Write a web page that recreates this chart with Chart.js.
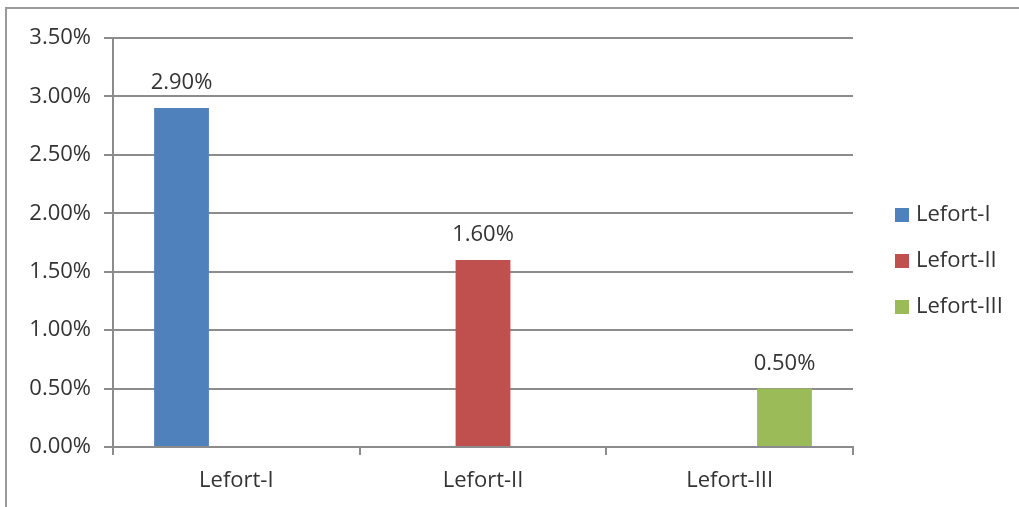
<!DOCTYPE html>
<html>
<head>
<meta charset="utf-8">
<script src="https://cdn.jsdelivr.net/npm/chart.js@4/dist/chart.umd.min.js"></script>
<style>
  html, body { margin: 0; padding: 0; background: #fff; }
  #wrap { width: 1019px; height: 507px; position: relative; }
  canvas { display: block; }
</style>
</head>
<body>
<div id="wrap"><canvas id="c" width="1019" height="507"></canvas></div>
<script>
// Fracture types along the x axis and their share (%)
const categories = ['Lefort-I', 'Lefort-II', 'Lefort-III'];
const seriesNames = ['Lefort-I', 'Lefort-II', 'Lefort-III'];
const lefortI = [2.9, null, null];
const lefortII = [null, 1.6, null];
const lefortIII = [null, null, 0.5];
const seriesColors = ['#4F81BD', '#C0504D', '#9BBB59'];
const yTicks = [0, 0.5, 1, 1.5, 2, 2.5, 3, 3.5];

const FONT = '"Open Sans", "Liberation Sans", sans-serif';
const FSIZE = 22;
const TEXT = '#333333';
const GRID = '#8c8c8c';

// Plot-area box inside the canvas
const PLOT = { left: 113, right: 853, top: 38, bottom: 447 };

const valueLabels = {
  id: 'valueLabels',
  afterDatasetsDraw(chart) {
    const ctx = chart.ctx;
    ctx.save();
    ctx.font = FSIZE + 'px ' + FONT;
    ctx.fillStyle = TEXT;
    ctx.textAlign = 'center';
    ctx.textBaseline = 'alphabetic';
    chart.data.datasets.forEach((ds, i) => {
      const meta = chart.getDatasetMeta(i);
      meta.data.forEach((bar, j) => {
        const v = ds.data[j];
        if (v == null) return;
        ctx.fillText(v.toFixed(2) + '%', bar.x, bar.y - 19);
      });
    });
    ctx.restore();
  }
};

const sideLegend = {
  id: 'sideLegend',
  afterDraw(chart) {
    const ctx = chart.ctx;
    ctx.save();
    ctx.font = FSIZE + 'px ' + FONT;
    ctx.textBaseline = 'middle';
    ctx.textAlign = 'left';
    const rows = [215, 261, 307];
    chart.data.datasets.forEach((ds, i) => {
      const y = rows[i];
      ctx.fillStyle = ds.backgroundColor;
      ctx.fillRect(895, y - 7, 14, 14);
      ctx.fillStyle = TEXT;
      ctx.fillText(ds.label, 916, y);
    });
    ctx.restore();
  }
};

const frame = {
  id: 'frame',
  beforeDraw(chart) {
    const ctx = chart.ctx;
    ctx.save();
    ctx.strokeStyle = '#9a9a9a';
    ctx.lineWidth = 2;
    ctx.beginPath();
    ctx.moveTo(6, 507);
    ctx.lineTo(6, 8);
    ctx.lineTo(1019, 8);
    ctx.stroke();
    ctx.restore();
  }
};

new Chart(document.getElementById('c'), {
  type: 'bar',
  data: {
    labels: categories,
    datasets: [
      { label: seriesNames[0], data: lefortI, backgroundColor: seriesColors[0] },
      { label: seriesNames[1], data: lefortII, backgroundColor: seriesColors[1] },
      { label: seriesNames[2], data: lefortIII, backgroundColor: seriesColors[2] }
    ]
  },
  options: {
    responsive: false,
    animation: false,
    layout: { padding: { left: 0, right: 1019 - PLOT.right, top: PLOT.top, bottom: 0 } },
    datasets: { bar: { categoryPercentage: 3 / 4.5, barPercentage: 1, skipNull: false } },
    plugins: { legend: { display: false }, tooltip: { enabled: false } },
    scales: {
      x: {
        grid: {
          display: true, drawOnChartArea: false, drawTicks: true, tickLength: 8,
          color: GRID, lineWidth: 2, offset: true
        },
        border: { display: true, color: GRID, width: 2 },
        ticks: { font: { family: FONT, size: FSIZE }, color: TEXT, padding: 13 },
        afterFit(s) { s.height = 507 - PLOT.bottom; }
      },
      y: {
        min: 0, max: 3.5,
        afterBuildTicks(s) { s.ticks = yTicks.map(v => ({ value: v })); },
        grid: { color: GRID, lineWidth: 2, tickLength: 9, drawTicks: true },
        border: { display: true, color: GRID, width: 2 },
        ticks: {
          font: { family: FONT, size: FSIZE }, color: TEXT, padding: 13,
          callback: v => v.toFixed(2) + '%'
        },
        afterFit(s) { s.width = PLOT.left; }
      }
    }
  },
  plugins: [frame, valueLabels, sideLegend]
});
</script>
</body>
</html>
